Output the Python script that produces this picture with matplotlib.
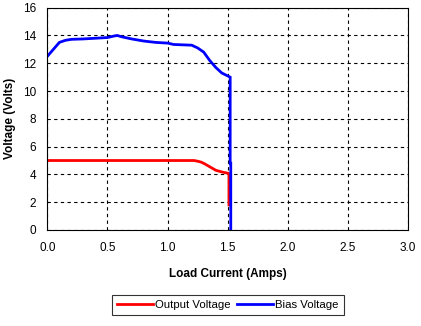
import matplotlib
matplotlib.use('Agg')
import matplotlib.pyplot as plt

plt.rcParams['font.family'] = ['Liberation Sans', 'DejaVu Sans']

# 输出电压 (红线)
out_current = [0.0, 0.5, 1.0, 1.22, 1.25, 1.28, 1.31, 1.34, 1.37, 1.40, 1.44, 1.48, 1.505, 1.51, 1.51]
out_voltage = [5.0, 5.0, 5.0, 5.0, 4.95, 4.88, 4.75, 4.6, 4.45, 4.3, 4.2, 4.12, 4.08, 4.0, 1.8]

# 偏置电压 (蓝线)
bias_current = [0.0, 0.05, 0.1, 0.15, 0.2, 0.3, 0.4, 0.5, 0.55, 0.58, 0.62, 0.7, 0.8, 0.9, 1.0, 1.05, 1.2,
                1.25, 1.3, 1.35, 1.4, 1.45, 1.52, 1.52, 1.525, 1.525]
bias_voltage = [12.5, 13.0, 13.5, 13.65, 13.72, 13.75, 13.8, 13.85, 13.95, 14.0, 13.9, 13.75, 13.6, 13.5, 13.45, 13.35, 13.3,
                13.1, 12.8, 12.2, 11.7, 11.3, 11.0, 4.8, 4.8, 0.0]

x_ticks = [0.0, 0.5, 1.0, 1.5, 2.0, 2.5, 3.0]
y_ticks = [0, 2, 4, 6, 8, 10, 12, 14, 16]

fig = plt.figure(figsize=(4.21, 3.26), dpi=100)
ax = fig.add_axes([0.1125, 0.2945, 0.857, 0.682])

ax.plot(out_current, out_voltage, color='#ff0000', linewidth=2, label='Output Voltage', solid_joinstyle='miter')
ax.plot(bias_current, bias_voltage, color='#0000ff', linewidth=2, label='Bias Voltage', solid_joinstyle='miter')

ax.set_xlim(0, 3)
ax.set_ylim(0, 16)
ax.set_xticks(x_ticks)
ax.set_xticklabels([f'{v:.1f}' for v in x_ticks])
ax.set_yticks(y_ticks)
ax.tick_params(labelsize=8.5, length=0)
ax.tick_params(axis='x', pad=9)
ax.tick_params(axis='y', pad=8)
ax.grid(True, color='black', linestyle=(0, (3, 3)), linewidth=0.8)
for s in ax.spines.values():
    s.set_linewidth(0.8)

ax.set_xlabel('Load Current (Amps)', fontsize=8.5, fontweight='bold', labelpad=10)
ax.set_ylabel('Voltage (Volts)', fontsize=8.5, fontweight='bold', labelpad=5)

leg = ax.legend(loc='upper center', bbox_to_anchor=(0.5, -0.265), ncol=2, fontsize=8.2, frameon=True,
                fancybox=False, edgecolor='black', handlelength=3.2, columnspacing=0.5, handletextpad=0.2,
                borderpad=0.45)
leg.get_frame().set_linewidth(0.8)

plt.savefig('out.png', dpi=100)
